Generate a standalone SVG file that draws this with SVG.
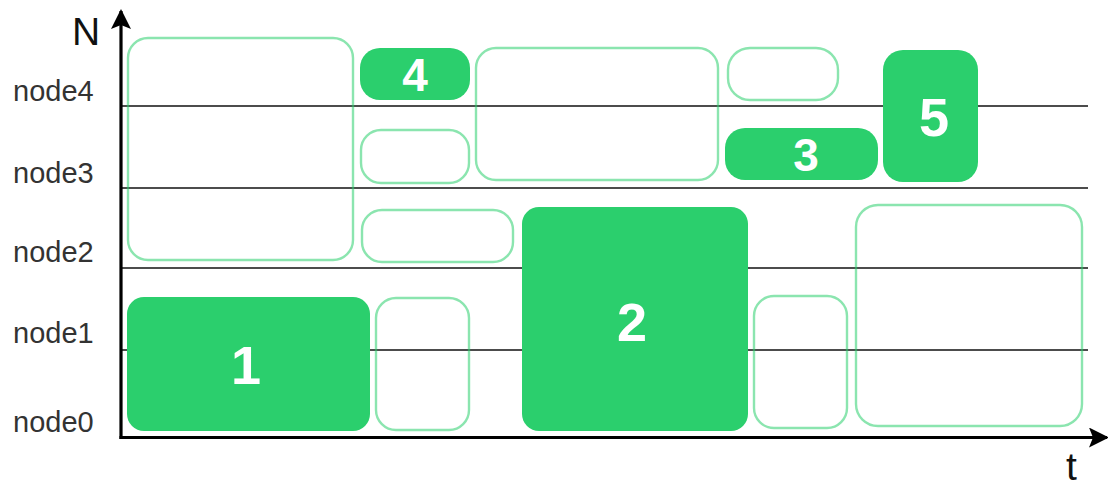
<svg xmlns="http://www.w3.org/2000/svg" width="1108" height="489" viewBox="0 0 1108 489">
<style>
.lbl{font-family:"Liberation Sans",Arial,sans-serif;font-size:29px;fill:#333333}
.ax{font-family:"Liberation Sans",Arial,sans-serif;font-size:39px;fill:#111111}
.grid{stroke:#111111;stroke-width:1.6;fill:none}
.axis{stroke:#000000;stroke-width:3.2;fill:none}
.full{fill:#2bcf6d;stroke:none}
.empty{fill:none;stroke:#2bcf6d;stroke-opacity:0.55;stroke-width:2.4}
.num{font-family:"Liberation Sans",Arial,sans-serif;font-weight:bold;fill:#ffffff;text-anchor:middle}
.big{font-size:54px}
.small{font-size:46px}
</style>
<defs>
<marker id="arr" viewBox="0 0 20 20" refX="18" refY="10" markerWidth="20" markerHeight="20" markerUnits="userSpaceOnUse" orient="auto">
<path d="M0,0 L20,10 L0,20 L4,10 Z" fill="#000000"/>
</marker>
</defs>
<rect width="1108" height="489" fill="#ffffff"/>
<g id="grid">
<line class="grid" x1="121" y1="106" x2="1088" y2="106"/>
<line class="grid" x1="121" y1="188" x2="1088" y2="188"/>
<line class="grid" x1="121" y1="268" x2="1088" y2="268"/>
<line class="grid" x1="121" y1="350" x2="1088" y2="350"/>
</g>
<g id="labels">
<text class="lbl" x="13" y="101">node4</text>
<text class="lbl" x="13" y="183">node3</text>
<text class="lbl" x="13" y="262">node2</text>
<text class="lbl" x="13" y="343">node1</text>
<text class="lbl" x="13" y="432">node0</text>
<text class="ax" x="72" y="45">N</text>
<text class="ax" x="1066" y="480">t</text>
</g>
<g id="idleA"><rect class="empty" x="128" y="38" width="225" height="222" rx="20"/></g>
<g id="idleB"><rect class="empty" x="361" y="130" width="108" height="53" rx="20"/></g>
<g id="idleC"><rect class="empty" x="362" y="210" width="151" height="52" rx="20"/></g>
<g id="idleD"><rect class="empty" x="476" y="48" width="242" height="132" rx="20"/></g>
<g id="idleE"><rect class="empty" x="728" y="48" width="110" height="52" rx="22"/></g>
<g id="idleF"><rect class="empty" x="376" y="298" width="93" height="132" rx="20"/></g>
<g id="idleG"><rect class="empty" x="754" y="296" width="93" height="132" rx="20"/></g>
<g id="idleH"><rect class="empty" x="856" y="205" width="226" height="221" rx="22"/></g>
<g id="job1"><rect class="full" x="127" y="297" width="243" height="134" rx="17"/><text class="num big" x="246" y="384">1</text></g>
<g id="job2"><rect class="full" x="522" y="207" width="226" height="224" rx="17"/><text class="num big" x="632" y="341">2</text></g>
<g id="job3"><rect class="full" x="725" y="128" width="153" height="52" rx="20"/><text class="num small" x="806" y="171">3</text></g>
<g id="job4"><rect class="full" x="360" y="48" width="110" height="52" rx="20"/><text class="num small" x="415" y="91">4</text></g>
<g id="job5"><rect class="full" x="883" y="50" width="95" height="132" rx="20"/><text class="num big" x="934" y="136">5</text></g>
<g id="axes">
<line class="axis" x1="121" y1="439" x2="121" y2="11" marker-end="url(#arr)"/>
<line class="axis" x1="119.5" y1="437.5" x2="1107" y2="437.5" marker-end="url(#arr)"/>
</g>
</svg>
